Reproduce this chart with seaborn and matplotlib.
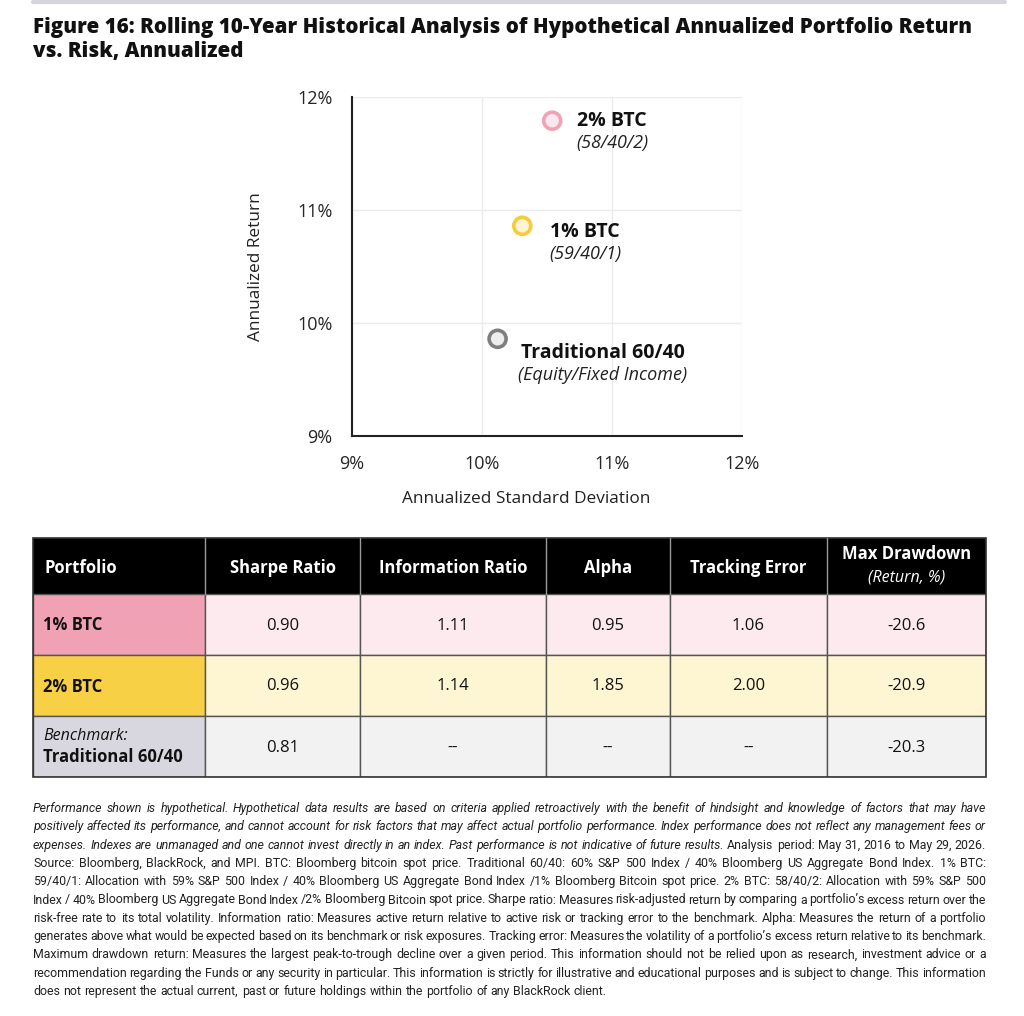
import pandas as pd
import matplotlib.pyplot as plt
import seaborn as sns
import numpy as np
from matplotlib.lines import Line2D
from matplotlib.patches import Rectangle

# scatter data
portfolios = ["2% BTC", "1% BTC", "Traditional 60/40"]
subtitles = ["(58/40/2)", "(59/40/1)", "(Equity/Fixed Income)"]
std_dev = [10.54, 10.31, 10.12]
ann_return = [11.79, 10.86, 9.86]
axis_ticks = [9, 10, 11, 12]

# table data
table_header = ["Portfolio", "Sharpe Ratio", "Information Ratio", "Alpha", "Tracking Error", "Max Drawdown"]
table_rows = ["1% BTC", "2% BTC", "Traditional 60/40"]
sharpe = ["0.90", "0.96", "0.81"]
info_ratio = ["1.11", "1.14", "--"]
alpha = ["0.95", "1.85", "--"]
tracking_error = ["1.06", "2.00", "--"]
max_drawdown = ["-20.6", "-20.9", "-20.3"]

title_lines = ["Figure 16: Rolling 10-Year Historical Analysis of Hypothetical Annualized Portfolio Return",
               "vs. Risk, Annualized"]

footnote_lines = [
    [("Performance shown is hypothetical. Hypothetical data results are based on criteria applied retroactively with the benefit of hindsight and knowledge of factors that may have", "italic")],
    [("positively affected its performance, and cannot account for risk factors that may affect actual portfolio performance. Index performance does not reflect any management fees or", "italic")],
    [("expenses. Indexes are unmanaged and one cannot invest directly in an index. Past performance is not indicative of future results.", "italic"),
     ("Analysis period: May 31, 2016 to May 29, 2026.", "normal")],
    [("Source: Bloomberg, BlackRock, and MPI. BTC: Bloomberg bitcoin spot price. Traditional 60/40: 60% S&P 500 Index / 40% Bloomberg US Aggregate Bond Index. 1% BTC:", "normal")],
    [("59/40/1: Allocation with 59% S&P 500 Index / 40% Bloomberg US Aggregate Bond Index /1% Bloomberg Bitcoin spot price. 2% BTC: 58/40/2: Allocation with 59% S&P 500", "normal")],
    [("Index / 40% Bloomberg US Aggregate Bond Index /2% Bloomberg Bitcoin spot price. Sharpe ratio: Measures risk-adjusted return by comparing a portfolio\u2019s excess return over the", "normal")],
    [("risk-free rate to its total volatility. Information ratio: Measures active return relative to active risk or tracking error to the benchmark. Alpha: Measures the return of a portfolio", "normal")],
    [("generates above what would be expected based on its benchmark or risk exposures. Tracking error: Measures the volatility of a portfolio\u2019s excess return relative to its benchmark.", "normal")],
    [("Maximum drawdown return: Measures the largest peak-to-trough decline over a given period. This information should not be relied upon as research, investment advice or a", "normal")],
    [("recommendation regarding the Funds or any security in particular. This information is strictly for illustrative and educational purposes and is subject to change. This information", "normal")],
    [("does not represent the actual current, past or future holdings within the portfolio of any BlackRock client.", "normal")],
]

face_colors = {"2% BTC": "#FBE8EE", "1% BTC": "#FEF5D5", "Traditional 60/40": "#EEEEEE"}
edge_colors = ["#EFA3B6", "#F7CB3A", "#7F7F7F"]
label_offsets = [(60, 0), (63, -6), (105, -14)]  # pixels from the marker

row_first_colors = ["#F0A1B3", "#F8D046", "#D8D6DF"]
row_cell_colors = ["#FCEAEF", "#FEF5D3", "#F2F2F2"]

sns.set_style("white")
plt.rcParams["font.family"] = ["Open Sans", "DejaVu Sans"]
MAIN = ["Open Sans", "DejaVu Sans"]
NOTE = ["Roboto", "DejaVu Sans"]

W, H = 1024, 1016
fig = plt.figure(figsize=(W / 100, H / 100), dpi=100)

# top rule and title
fig.add_artist(Line2D([33 / W, 1005 / W], [1 - 2 / H, 1 - 2 / H], color="#D5D5DC", lw=3))
for i, line in enumerate(title_lines):
    fig.text(33 / W, 1 - (27 + 25 * i) / H, line, fontsize=14.8, fontweight="heavy",
             family=MAIN, va="center", ha="left", color="#111111")

# ---- scatter ----
ax = fig.add_axes([352 / W, 1 - 436 / H, 390 / W, 339 / H])
df = pd.DataFrame({"portfolio": portfolios, "std_dev": std_dev, "ann_return": ann_return})
sns.scatterplot(data=df, x="std_dev", y="ann_return", hue="portfolio", palette=face_colors,
                s=150, linewidth=2.6, legend=False, ax=ax, zorder=3, clip_on=False)
ax.collections[0].set_edgecolors(edge_colors)

for name, sub, x, y, (dx, dy) in zip(portfolios, subtitles, std_dev, ann_return, label_offsets):
    ax.annotate(name, (x, y), xytext=(dx, dy), textcoords="offset pixels", ha="center", va="center",
                fontsize=14, fontweight="bold", color="#111111")
    ax.annotate(sub, (x, y), xytext=(dx, dy - 22), textcoords="offset pixels", ha="center", va="center",
                fontsize=13, style="italic", color="#222222")

ax.set_xlim(axis_ticks[0], axis_ticks[-1])
ax.set_ylim(axis_ticks[0], axis_ticks[-1])
ax.set_xticks(axis_ticks)
ax.set_yticks(axis_ticks)
ax.set_xticklabels([f"{t}%" for t in axis_ticks], fontsize=13)
ax.set_yticklabels([f"{t}%" for t in axis_ticks], fontsize=13)
ax.tick_params(axis="x", length=0, pad=14)
ax.tick_params(axis="y", length=0, pad=14)
ax.grid(True, color="#EBEBEB", lw=1)
ax.set_axisbelow(True)
for side in ["top", "right"]:
    ax.spines[side].set_visible(False)
for side in ["left", "bottom"]:
    ax.spines[side].set_color("#222222")
    ax.spines[side].set_linewidth(1.5)
ax.set_xlabel("Annualized Standard Deviation", fontsize=12.4, color="#222222")
ax.set_ylabel("Annualized Return", fontsize=12.4, color="#222222")
ax.xaxis.set_label_coords(0.446, -0.162)
ax.yaxis.set_label_coords(-0.225, 0.5)

# ---- table ----
col_edges = [0, 172, 327, 513, 637, 794, 953]
row_edges = [0, 56, 117, 178, 239]
tax = fig.add_axes([33 / W, 1 - 777 / H, 953 / W, 239 / H])
tax.set_xlim(0, 953)
tax.set_ylim(239, 0)
tax.axis("off")

values = [sharpe, info_ratio, alpha, tracking_error, max_drawdown]
# header
for c in range(6):
    x0, x1 = col_edges[c], col_edges[c + 1]
    tax.add_patch(Rectangle((x0, 0), x1 - x0, row_edges[1], facecolor="black", edgecolor="none"))
    if c == 0:
        tax.text(x0 + 11, 30, table_header[c], color="white", fontsize=12, fontweight="bold",
                 ha="left", va="center")
    elif c == 5:
        tax.text((x0 + x1) / 2, 16, table_header[c], color="white", fontsize=12, fontweight="bold",
                 ha="center", va="center")
        tax.text((x0 + x1) / 2, 40, "(Return, %)", color="white", fontsize=11.5, style="italic",
                 ha="center", va="center")
    else:
        tax.text((x0 + x1) / 2, 30, table_header[c], color="white", fontsize=12, fontweight="bold",
                 ha="center", va="center")
for c in range(1, 6):
    tax.plot([col_edges[c]] * 2, [0, row_edges[1]], color="#9A9A9A", lw=1)

# body
for r, name in enumerate(table_rows):
    y0, y1 = row_edges[r + 1], row_edges[r + 2]
    ym = (y0 + y1) / 2
    for c in range(6):
        x0, x1 = col_edges[c], col_edges[c + 1]
        fc = row_first_colors[r] if c == 0 else row_cell_colors[r]
        tax.add_patch(Rectangle((x0, y0), x1 - x0, y1 - y0, facecolor=fc, edgecolor="#555555", lw=1))
        if c == 0:
            if r == 2:
                tax.text(x0 + 10, ym - 10, "Benchmark:", fontsize=11.5, style="italic", color="#111111",
                         ha="left", va="center")
                tax.text(x0 + 10, ym + 11, name, fontsize=12, fontweight="bold", color="#111111",
                         ha="left", va="center")
            else:
                tax.text(x0 + 10, ym + 1, name, fontsize=12, fontweight="bold", color="#111111",
                         ha="left", va="center")
        else:
            tax.text((x0 + x1) / 2, ym + 1, values[c - 1][r], fontsize=12, color="#111111",
                     ha="center", va="center")
tax.add_patch(Rectangle((0, 0), 953, 239, facecolor="none", edgecolor="#333333", lw=1.2, clip_on=False))

# ---- footnote (justified) ----
renderer = fig.canvas.get_renderer()
note_size = 8.9
x_left, x_right = 33, 986
for i, segments in enumerate(footnote_lines):
    y = 1 - (812 + 18.3 * i) / H
    words = []
    for seg, style in segments:
        words += [(w, style) for w in seg.split(" ")]
    texts, widths = [], []
    for w, style in words:
        t = fig.text(0, y, w, fontsize=note_size, style=style, family=NOTE, color="#222222",
                     ha="left", va="baseline")
        widths.append(t.get_window_extent(renderer).width)
        texts.append(t)
    last = i == len(footnote_lines) - 1
    gap = note_size * 100 / 72 * 0.26 if last else (x_right - x_left - sum(widths)) / (len(words) - 1)
    x = x_left
    for t, w in zip(texts, widths):
        t.set_x(x / W)
        x += w + gap

fig.savefig("out.png", dpi=100)
